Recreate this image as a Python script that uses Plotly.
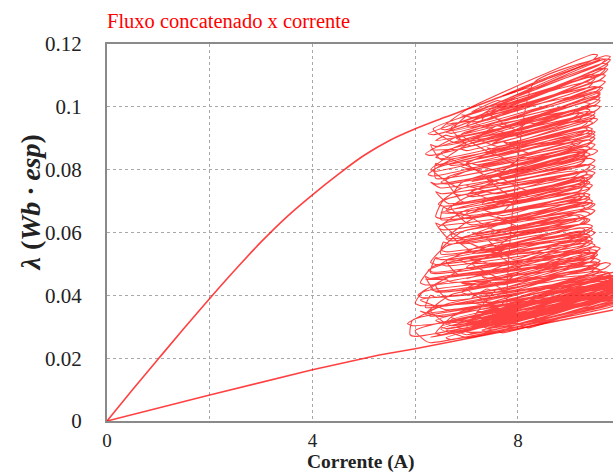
import plotly.graph_objects as go

# Magnetization curve (first rise of the flux linkage)
curve_i = [0, 0.5, 1.0, 1.5, 2.0, 2.5, 3.0, 3.5, 4.0, 4.5, 5.0, 5.5, 6.0, 6.5, 7.0, 7.5, 8.0, 8.5, 9.0, 9.6]
curve_lam = [0, 0.0100, 0.0198, 0.0295, 0.0390, 0.0482, 0.0570, 0.0650, 0.0720, 0.0785, 0.0845, 0.0893, 0.0930,
             0.0962, 0.0992, 0.1022, 0.1052, 0.1085, 0.1115, 0.1150]

# Lower straight branch
line_i = [0, 2.0, 4.0, 5.3, 6.0, 8.0, 10.0]
line_lam = [0, 0.0083, 0.0163, 0.0210, 0.0230, 0.0295, 0.0358]

# Hysteresis loops: left and right turning points of each loop
left_i = [6.9, 6.5, 7.1, 6.25, 6.7, 6.2, 6.9, 6.3, 6.6, 6.25, 6.8, 6.75, 6.45, 6.4, 6.9, 6.45, 6.8, 6.5, 6.3, 6.9,
          6.25, 6.1, 6.6, 6.05, 6.0, 6.5, 5.85, 5.9, 6.2, 7.0, 7.3, 6.8,
          7.2, 7.5, 7.0, 7.4, 6.9, 7.6, 7.0, 7.5, 7.1, 7.6, 7.2, 7.5, 7.0, 7.6, 7.1, 7.5, 7.2, 7.6, 7.4, 7.8,
          7.3, 6.6, 7.0, 6.4, 7.2, 6.5, 6.9, 6.6, 7.0, 6.6, 7.1, 6.5, 6.8, 6.3, 6.6, 6.2, 6.6, 7.4, 7.8, 7.1,
          7.6, 8.0,
          7.7, 7.3, 7.8, 7.4, 7.9, 7.3, 7.8, 7.4, 7.9, 7.4, 7.9, 7.6, 8.0,
          7.5, 7.0, 7.7, 6.8, 7.5, 6.9, 7.6, 7.0, 7.7, 6.9, 7.5, 6.8, 7.6, 7.0, 7.7, 6.9, 7.5, 6.7, 6.4, 6.9,
          7.6, 8.1, 7.3, 6.6, 7.9, 7.2, 6.4,
          6.1, 6.3, 6.2, 6.4, 6.55, 6.4, 6.55, 6.4, 6.3, 6.4, 6.3, 6.6, 7.0, 7.6, 8.2,
          7.8, 7.5, 6.5, 8.3, 6.6, 7.7, 7.0, 8.0, 7.4, 6.9,
          7.6, 8.0, 7.5, 8.0, 7.6, 8.1, 7.6, 8.1, 7.7, 8.2]
left_lam = [0.0975, 0.0930, 0.0955, 0.0915, 0.0890, 0.0850, 0.0865, 0.0800, 0.0820, 0.0785, 0.0745, 0.0725,
            0.0690, 0.0650, 0.0660, 0.0615, 0.0590, 0.0545, 0.0505, 0.0510, 0.0480, 0.0440, 0.0450, 0.0400,
            0.0375, 0.0360, 0.0310, 0.0275, 0.0255, 0.0285, 0.0300, 0.0300,
            0.0330, 0.0350, 0.0380, 0.0420, 0.0440, 0.0480, 0.0520, 0.0560, 0.0600, 0.0640, 0.0680, 0.0710,
            0.0750, 0.0780, 0.0820, 0.0860, 0.0900, 0.0940, 0.0980, 0.1010,
            0.0960, 0.0920, 0.0880, 0.0840, 0.0800, 0.0760, 0.0700, 0.0670, 0.0630, 0.0580, 0.0540, 0.0500,
            0.0470, 0.0420, 0.0390, 0.0340, 0.0310, 0.0310, 0.0320, 0.0330, 0.0360, 0.0340,
            0.0400, 0.0460, 0.0500, 0.0580, 0.0620, 0.0660, 0.0700, 0.0770, 0.0800, 0.0870, 0.0910, 0.0960,
            0.1000,
            0.0990, 0.0940, 0.0920, 0.0900, 0.0850, 0.0810, 0.0760, 0.0720, 0.0690, 0.0650, 0.0610, 0.0570,
            0.0530, 0.0490, 0.0450, 0.0410, 0.0370, 0.0330, 0.0280, 0.0270, 0.0285, 0.0300, 0.0290, 0.0265,
            0.0330, 0.0350, 0.0320,
            0.0350, 0.0400, 0.0460, 0.0520, 0.0570, 0.0630, 0.0680, 0.0730, 0.0760, 0.0820, 0.0880, 0.0910,
            0.0970, 0.1020, 0.1060,
            0.0360, 0.0340, 0.0300, 0.0330, 0.0290, 0.0325, 0.0310, 0.0310, 0.0295, 0.0280,
            0.0420, 0.0470, 0.0540, 0.0600, 0.0650, 0.0720, 0.0780, 0.0840, 0.0890, 0.0950]
right_i = [9.55, 9.75, 9.5, 9.45, 9.6, 9.6, 9.3, 9.45, 9.25, 9.5, 9.35, 9.5, 9.35, 9.4, 9.3, 9.45, 9.4, 9.45,
           9.45, 9.25, 9.5, 9.6, 9.5, 9.65, 9.7, 9.8, 9.9, 10.0, 10.0, 10.1, 10.1, 10.0,
           10.0, 9.9, 9.6, 9.5, 9.55, 9.35, 9.5, 9.3, 9.5, 9.3, 9.45, 9.35, 9.5, 9.4, 9.5, 9.55, 9.6, 9.65,
           9.7, 9.8,
           9.75, 9.6, 9.4, 9.35, 9.45, 9.3, 9.5, 9.25, 9.4, 9.3, 9.45, 9.35, 9.55, 9.6, 9.7, 9.9, 10.0, 10.1,
           10.1, 10.0, 10.0, 10.1,
           9.8, 9.6, 9.4, 9.5, 9.3, 9.4, 9.45, 9.35, 9.5, 9.45, 9.6, 9.7, 9.7,
           9.5, 9.3, 9.4, 9.2, 9.35, 9.1, 9.3, 9.2, 9.35, 9.2, 9.3, 9.4, 9.3, 9.45, 9.5, 9.6, 9.8, 10.0, 10.1,
           10.1, 10.1, 10.1, 10.1, 10.1, 10.1, 10.0, 9.95,
           9.75, 9.6, 9.5, 9.4, 9.35, 9.45, 9.3, 9.4, 9.55, 9.45, 9.5, 9.6, 9.7, 9.8, 9.7,
           10.0, 10.1, 10.0, 10.1, 10.1, 10.1, 10.1, 10.1, 10.1, 10.1,
           9.5, 9.4, 9.3, 9.2, 9.4, 9.3, 9.4, 9.5, 9.5, 9.6]
right_lam = [0.1165, 0.1135, 0.1100, 0.1075, 0.1045, 0.1000, 0.0975, 0.0930, 0.0890, 0.0910, 0.0860, 0.0810,
             0.0770, 0.0760, 0.0720, 0.0690, 0.0660, 0.0620, 0.0580, 0.0530, 0.0560, 0.0510, 0.0485, 0.0455,
             0.0420, 0.0450, 0.0400, 0.0410, 0.0380, 0.0395, 0.0420, 0.0430,
             0.0445, 0.0460, 0.0480, 0.0520, 0.0540, 0.0570, 0.0600, 0.0640, 0.0690, 0.0720, 0.0750, 0.0790,
             0.0830, 0.0870, 0.0920, 0.0960, 0.1020, 0.1060, 0.1100, 0.1150,
             0.1120, 0.1060, 0.0990, 0.0950, 0.0890, 0.0850, 0.0790, 0.0740, 0.0710, 0.0650, 0.0610, 0.0570,
             0.0530, 0.0500, 0.0470, 0.0440, 0.0420, 0.0410, 0.0430, 0.0460, 0.0470, 0.0450,
             0.0500, 0.0550, 0.0590, 0.0670, 0.0680, 0.0740, 0.0780, 0.0840, 0.0880, 0.0950, 0.1000, 0.1080,
             0.1120,
             0.1090, 0.1030, 0.1010, 0.0980, 0.0930, 0.0880, 0.0830, 0.0790, 0.0760, 0.0720, 0.0680, 0.0640,
             0.0600, 0.0570, 0.0530, 0.0500, 0.0470, 0.0450, 0.0410, 0.0395, 0.0400, 0.0410, 0.0420, 0.0390,
             0.0440, 0.0455, 0.0440,
             0.0445, 0.0480, 0.0530, 0.0590, 0.0640, 0.0700, 0.0760, 0.0810, 0.0860, 0.0920, 0.0980, 0.1040,
             0.1100, 0.1160, 0.1150,
             0.0470, 0.0460, 0.0425, 0.0425, 0.0415, 0.0445, 0.0435, 0.0415, 0.0405, 0.0400,
             0.0500, 0.0540, 0.0610, 0.0650, 0.0720, 0.0770, 0.0850, 0.0900, 0.0970, 0.1030]

x_ticks = [0, 2, 4, 6, 8]
x_labels = ["0", "", "4", "", "8"]
y_ticks = [0, 0.02, 0.04, 0.06, 0.08, 0.10, 0.12]
y_labels = ["0", "0.02", "0.04", "0.06", "0.08", "0.1", "0.12"]

RED = "rgba(255,0,0,0.75)"
HALF_W = 0.0009   # half thickness of each loop (Wb-turn)
CAP = 0.10        # horizontal length of the rounded loop ends (A)

# Trace every loop as a slim oval: out along the lower branch, back along the upper one
loop_i, loop_lam = [], []
for li, ll, ri, rl in zip(left_i, left_lam, right_i, right_lam):
    slope = (rl - ll) / (ri - li)
    a_y = ll + slope * CAP
    b_y = rl - slope * CAP
    loop_i += [li, li + CAP, ri - CAP, ri, ri - CAP, li + CAP]
    loop_lam += [ll, a_y - HALF_W, b_y - HALF_W, rl, b_y + HALF_W, a_y + HALF_W]

fig = go.Figure()
fig.add_trace(go.Scatter(x=line_i, y=line_lam, mode="lines", line=dict(color=RED, width=1.6)))
fig.add_trace(go.Scatter(x=curve_i, y=curve_lam, mode="lines", line=dict(color=RED, width=1.6, shape="spline")))
fig.add_trace(go.Scatter(x=loop_i, y=loop_lam, mode="lines",
                         line=dict(color=RED, width=1.1, shape="spline", smoothing=0.5)))

font = "Liberation Serif, Times New Roman, serif"
axis_line = "#8a8a8a"
grid = "#a8a8a8"

fig.update_layout(
    width=613, height=474,
    margin=dict(l=107, r=0, t=44, b=53),
    paper_bgcolor="white", plot_bgcolor="white",
    showlegend=False,
    font=dict(family=font, size=21, color="#222"),
    xaxis=dict(range=[0, 9.85], tickvals=x_ticks, ticktext=x_labels, showgrid=True,
               gridcolor=grid, griddash="dot", gridwidth=1, zeroline=False,
               showline=True, linecolor=axis_line, linewidth=2, mirror=True,
               ticks="", ticklen=0, ticklabelstandoff=1, tickfont=dict(size=19)),
    yaxis=dict(range=[0, 0.12], tickvals=y_ticks, ticktext=y_labels, showgrid=True,
               gridcolor=grid, griddash="dot", gridwidth=1, zeroline=False,
               showline=True, linecolor=axis_line, linewidth=2, ticks="", ticklen=0,
               ticklabelstandoff=19),
    annotations=[
        dict(text="Fluxo concatenado x corrente", xref="paper", yref="paper", x=0, y=1,
             xanchor="left", yanchor="middle", yshift=23, xshift=-2, showarrow=False,
             font=dict(family=font, size=20.5, color="red")),
        dict(text="<b>Corrente (A)</b>", xref="paper", yref="paper", x=0.5, y=0,
             xanchor="center", yanchor="middle", yshift=-41, showarrow=False,
             font=dict(family=font, size=19.5, color="#222")),
        dict(text="<b><i>λ</i> (<i>Wb · esp</i>)</b>", xref="paper", yref="paper", x=0, y=0.5,
             xanchor="center", yanchor="middle", xshift=-77, yshift=30, textangle=-90,
             showarrow=False, font=dict(family=font, size=28, color="#222")),
    ],
)

fig.write_html("out.html")
